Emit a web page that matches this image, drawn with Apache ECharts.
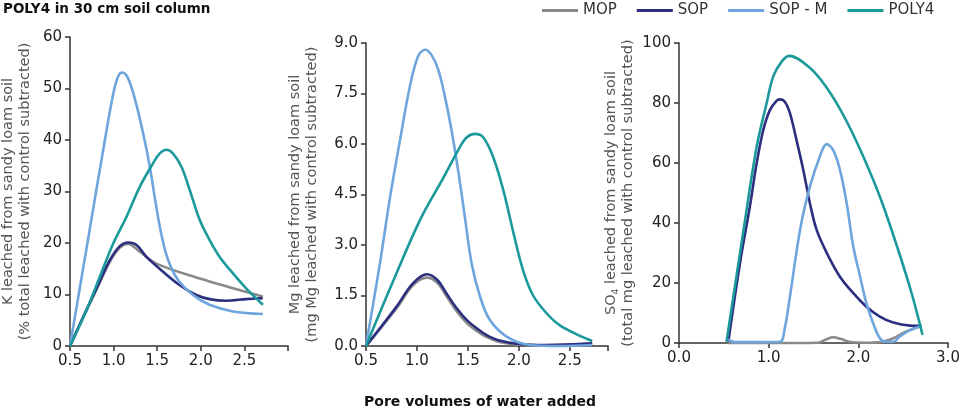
<!DOCTYPE html>
<html><head><meta charset="utf-8">
<script src="https://cdn.jsdelivr.net/npm/echarts@6/dist/echarts.min.js"></script>
<style>html,body{margin:0;padding:0;background:#fff}#c{width:960px;height:409px}</style>
</head><body><div id="c"></div>
<script>
// Series names
const seriesNames = ['MOP', 'SOP', 'SOP - M', 'POLY4'];
const colors = ['#8a8a8a', '#2c2f7f', '#6ea5dc', '#1b999b'];

// Panel 1: K leached (% total) vs pore volumes
const kMOP  = [[0.5,0],[0.653,5.6],[0.805,11],[0.958,16.4],[1.072,19.1],[1.167,19.8],[1.30,18.3],[1.49,16],[1.99,13.1],[2.37,11.2],[2.71,9.6]];
const kSOP  = [[0.5,0],[0.653,5.7],[0.805,11.2],[0.958,16.7],[1.072,19.4],[1.167,20.1],[1.263,19.6],[1.377,17.3],[1.568,14.4],[1.759,11.8],[1.949,9.9],[2.10,9.1],[2.29,8.8],[2.52,9.1],[2.71,9.3]];
const kSOPM = [[0.5,0],[0.7,20],[0.889,38.9],[0.996,49],[1.053,52.4],[1.099,53.1],[1.156,52.3],[1.225,49.1],[1.30,44.2],[1.377,38.2],[1.434,32.9],[1.484,27.6],[1.549,21.6],[1.625,16.7],[1.74,12.8],[1.911,9.9],[2.10,8.0],[2.369,6.7],[2.712,6.2]];
const kPOLY = [[0.5,0],[0.69,7],[0.843,13.5],[0.996,19.9],[1.148,25.1],[1.30,30.9],[1.453,35.5],[1.53,37.4],[1.606,38.1],[1.68,37.4],[1.778,34.8],[1.873,30.3],[1.987,24.5],[2.10,20.6],[2.216,17.3],[2.369,14.1],[2.52,11.2],[2.712,8.0]];

// Panel 2: Mg leached (mg)
const mgMOP  = [[0.5,0],[0.8,1.12],[0.96,1.8],[1.10,2.03],[1.2,1.88],[1.29,1.48],[1.39,1.03],[1.49,0.68],[1.59,0.44],[1.68,0.27],[1.81,0.12],[2.0,0.04],[2.26,0.02],[2.72,0.06]];
const mgSOP  = [[0.5,0],[0.8,1.17],[0.96,1.86],[1.10,2.13],[1.2,1.96],[1.29,1.56],[1.39,1.12],[1.49,0.77],[1.59,0.52],[1.68,0.33],[1.81,0.16],[2.0,0.06],[2.26,0.03],[2.72,0.08]];
const mgSOPM = [[0.5,0],[0.637,2.46],[0.735,4.4],[0.833,6.1],[0.93,7.7],[1.01,8.6],[1.08,8.8],[1.144,8.64],[1.21,8.2],[1.275,7.4],[1.34,6.4],[1.405,5.2],[1.47,3.84],[1.536,2.46],[1.62,1.46],[1.716,0.77],[1.88,0.28],[2.11,0.03],[2.4,0],[2.72,0.03]];
const mgPOLY = [[0.5,0],[0.77,1.95],[1.03,3.74],[1.26,5.0],[1.42,5.9],[1.49,6.2],[1.57,6.3],[1.65,6.2],[1.75,5.6],[1.85,4.6],[1.94,3.45],[2.04,2.26],[2.14,1.5],[2.27,0.98],[2.4,0.62],[2.6,0.3],[2.72,0.15]];

// Panel 3: SO4 leached (total mg)
const soMOP  = [[0.55,0],[1.0,0],[1.55,0.1],[1.64,1.2],[1.72,1.9],[1.8,1.4],[1.9,0.4],[2.09,0.1],[2.25,0.3],[2.39,1.6],[2.53,3.8],[2.705,5.7]];
const soSOP  = [[0.55,0.4],[0.68,26.6],[0.79,45.4],[0.866,59.9],[0.94,71],[1.015,77.7],[1.09,80.8],[1.126,81.2],[1.18,80.4],[1.237,76.6],[1.31,67.7],[1.386,57.7],[1.46,46.6],[1.535,37.7],[1.65,29.9],[1.795,22.1],[1.944,16.6],[2.09,12.1],[2.24,8.8],[2.39,6.8],[2.575,5.8],[2.705,5.7]];
const soSOPM = [[0.55,1.2],[0.62,0.3],[0.9,0.3],[1.126,0.4],[1.18,5],[1.237,15.4],[1.35,37.7],[1.46,52.1],[1.57,62.1],[1.646,66.3],[1.72,64.3],[1.795,57.7],[1.87,46.6],[1.944,32.1],[2.02,22.1],[2.09,13.2],[2.165,6.6],[2.24,1.6],[2.31,0.4],[2.39,0.4],[2.46,2.1],[2.575,4.3],[2.705,5.7]];
const soPOLY = [[0.53,0.4],[0.72,37.7],[0.866,65.4],[0.977,79.9],[1.05,88.8],[1.145,93.8],[1.23,95.7],[1.45,92],[1.65,85],[1.85,75],[2.05,62.5],[2.25,48],[2.45,30.5],[2.6,16],[2.716,2.7]];

const panels = [[kMOP,kSOP,kSOPM,kPOLY],[mgMOP,mgSOP,mgSOPM,mgPOLY],[soMOP,soSOP,soSOPM,soPOLY]];

const FONT = 'DejaVu Sans';
const axisLine = {lineStyle:{color:'#333', width:1.5}};
const axisTick = {length:5, lineStyle:{color:'#333', width:1.5}};
const lblStyle = {color:'#222', fontSize:15, fontFamily:FONT};
const nameStyle = {color:'#555', fontSize:14.5, fontFamily:FONT, lineHeight:17, align:'center'};

function xAx(idx, min, max, interval, hideAbove) {
  return {type:'value', gridIndex:idx, min, max, interval,
    axisLine, axisTick, splitLine:{show:false},
    axisLabel:{...lblStyle, margin:8, showMaxLabel:true, formatter:v => {
      const r = Math.round(v/interval)*interval;
      if (Math.abs(r - v) > 1e-6) return '';
      if (hideAbove !== undefined && v > hideAbove + 1e-6) return '';
      return v.toFixed(1);
    }}};
}
function yAx(idx, max, interval, dec, nameRich, gap) {
  return {type:'value', gridIndex:idx, min:0, max, interval,
    axisLine:{show:true, ...axisLine}, axisTick:{show:true, ...axisTick}, splitLine:{show:false},
    axisLabel:{...lblStyle, margin:8, formatter:v => v.toFixed(dec)},
    name: nameRich, nameLocation:'middle', nameGap:gap, nameRotate:90,
    nameTextStyle:{...nameStyle, rich:{sub:{fontSize:9, fontFamily:FONT, color:'#555', verticalAlign:'bottom', padding:[6,0,0,0]}}}};
}

const series = [];
panels.forEach((p, gi) => {
  p.forEach((d, si) => {
    series.push({type:'line', name:seriesNames[si], xAxisIndex:gi, yAxisIndex:gi,
      data:d, smooth:0.35, symbol:'none', clip:false,
      lineStyle:{color:colors[si], width:2.6}, itemStyle:{color:colors[si]}, z:2+si});
  });
});

const option = {
  backgroundColor:'#fff',
  animation:false,
  title:{text:'POLY4 in 30 cm soil column', left:3, top:2, padding:0,
    textStyle:{fontSize:13.5, fontWeight:'bold', fontFamily:FONT, color:'#111'}},
  legend:{data:seriesNames, left:542, top:3, padding:0, itemWidth:36, itemHeight:3, itemGap:20, icon:'rect',
    textStyle:{fontSize:15, fontFamily:FONT, color:'#333'}},
  grid:[
    {left:70, top:37, width:218, height:309, outerBoundsMode:'none', containLabel:false},
    {left:366, top:43, width:242, height:303, outerBoundsMode:'none', containLabel:false},
    {left:679, top:43, width:269, height:300, outerBoundsMode:'none', containLabel:false}
  ],
  xAxis:[xAx(0,0.5,3.0,0.5,2.5), xAx(1,0.5,2.875,0.5,2.5), xAx(2,0,3,1)],
  yAxis:[
    yAx(0,60,10,0,'K leached from sandy loam soil\n(% total leached with control subtracted)',36),
    yAx(1,9,1.5,1,'Mg leached from sandy loam soil\n(mg Mg leached with control subtracted)',45),
    yAx(2,100,20,0,'SO{sub|4} leached from sandy loam soil\n(total mg leached with control subtracted)',42)
  ],
  graphic:[{type:'text', left:'center', top:395, style:{text:'Pore volumes of water added',
    fontSize:14, fontWeight:'bold', fontFamily:FONT, fill:'#111'}}],
  series
};
const chart = echarts.init(document.getElementById('c'), null, {renderer:'canvas'});
chart.setOption(option);
</script></body></html>
